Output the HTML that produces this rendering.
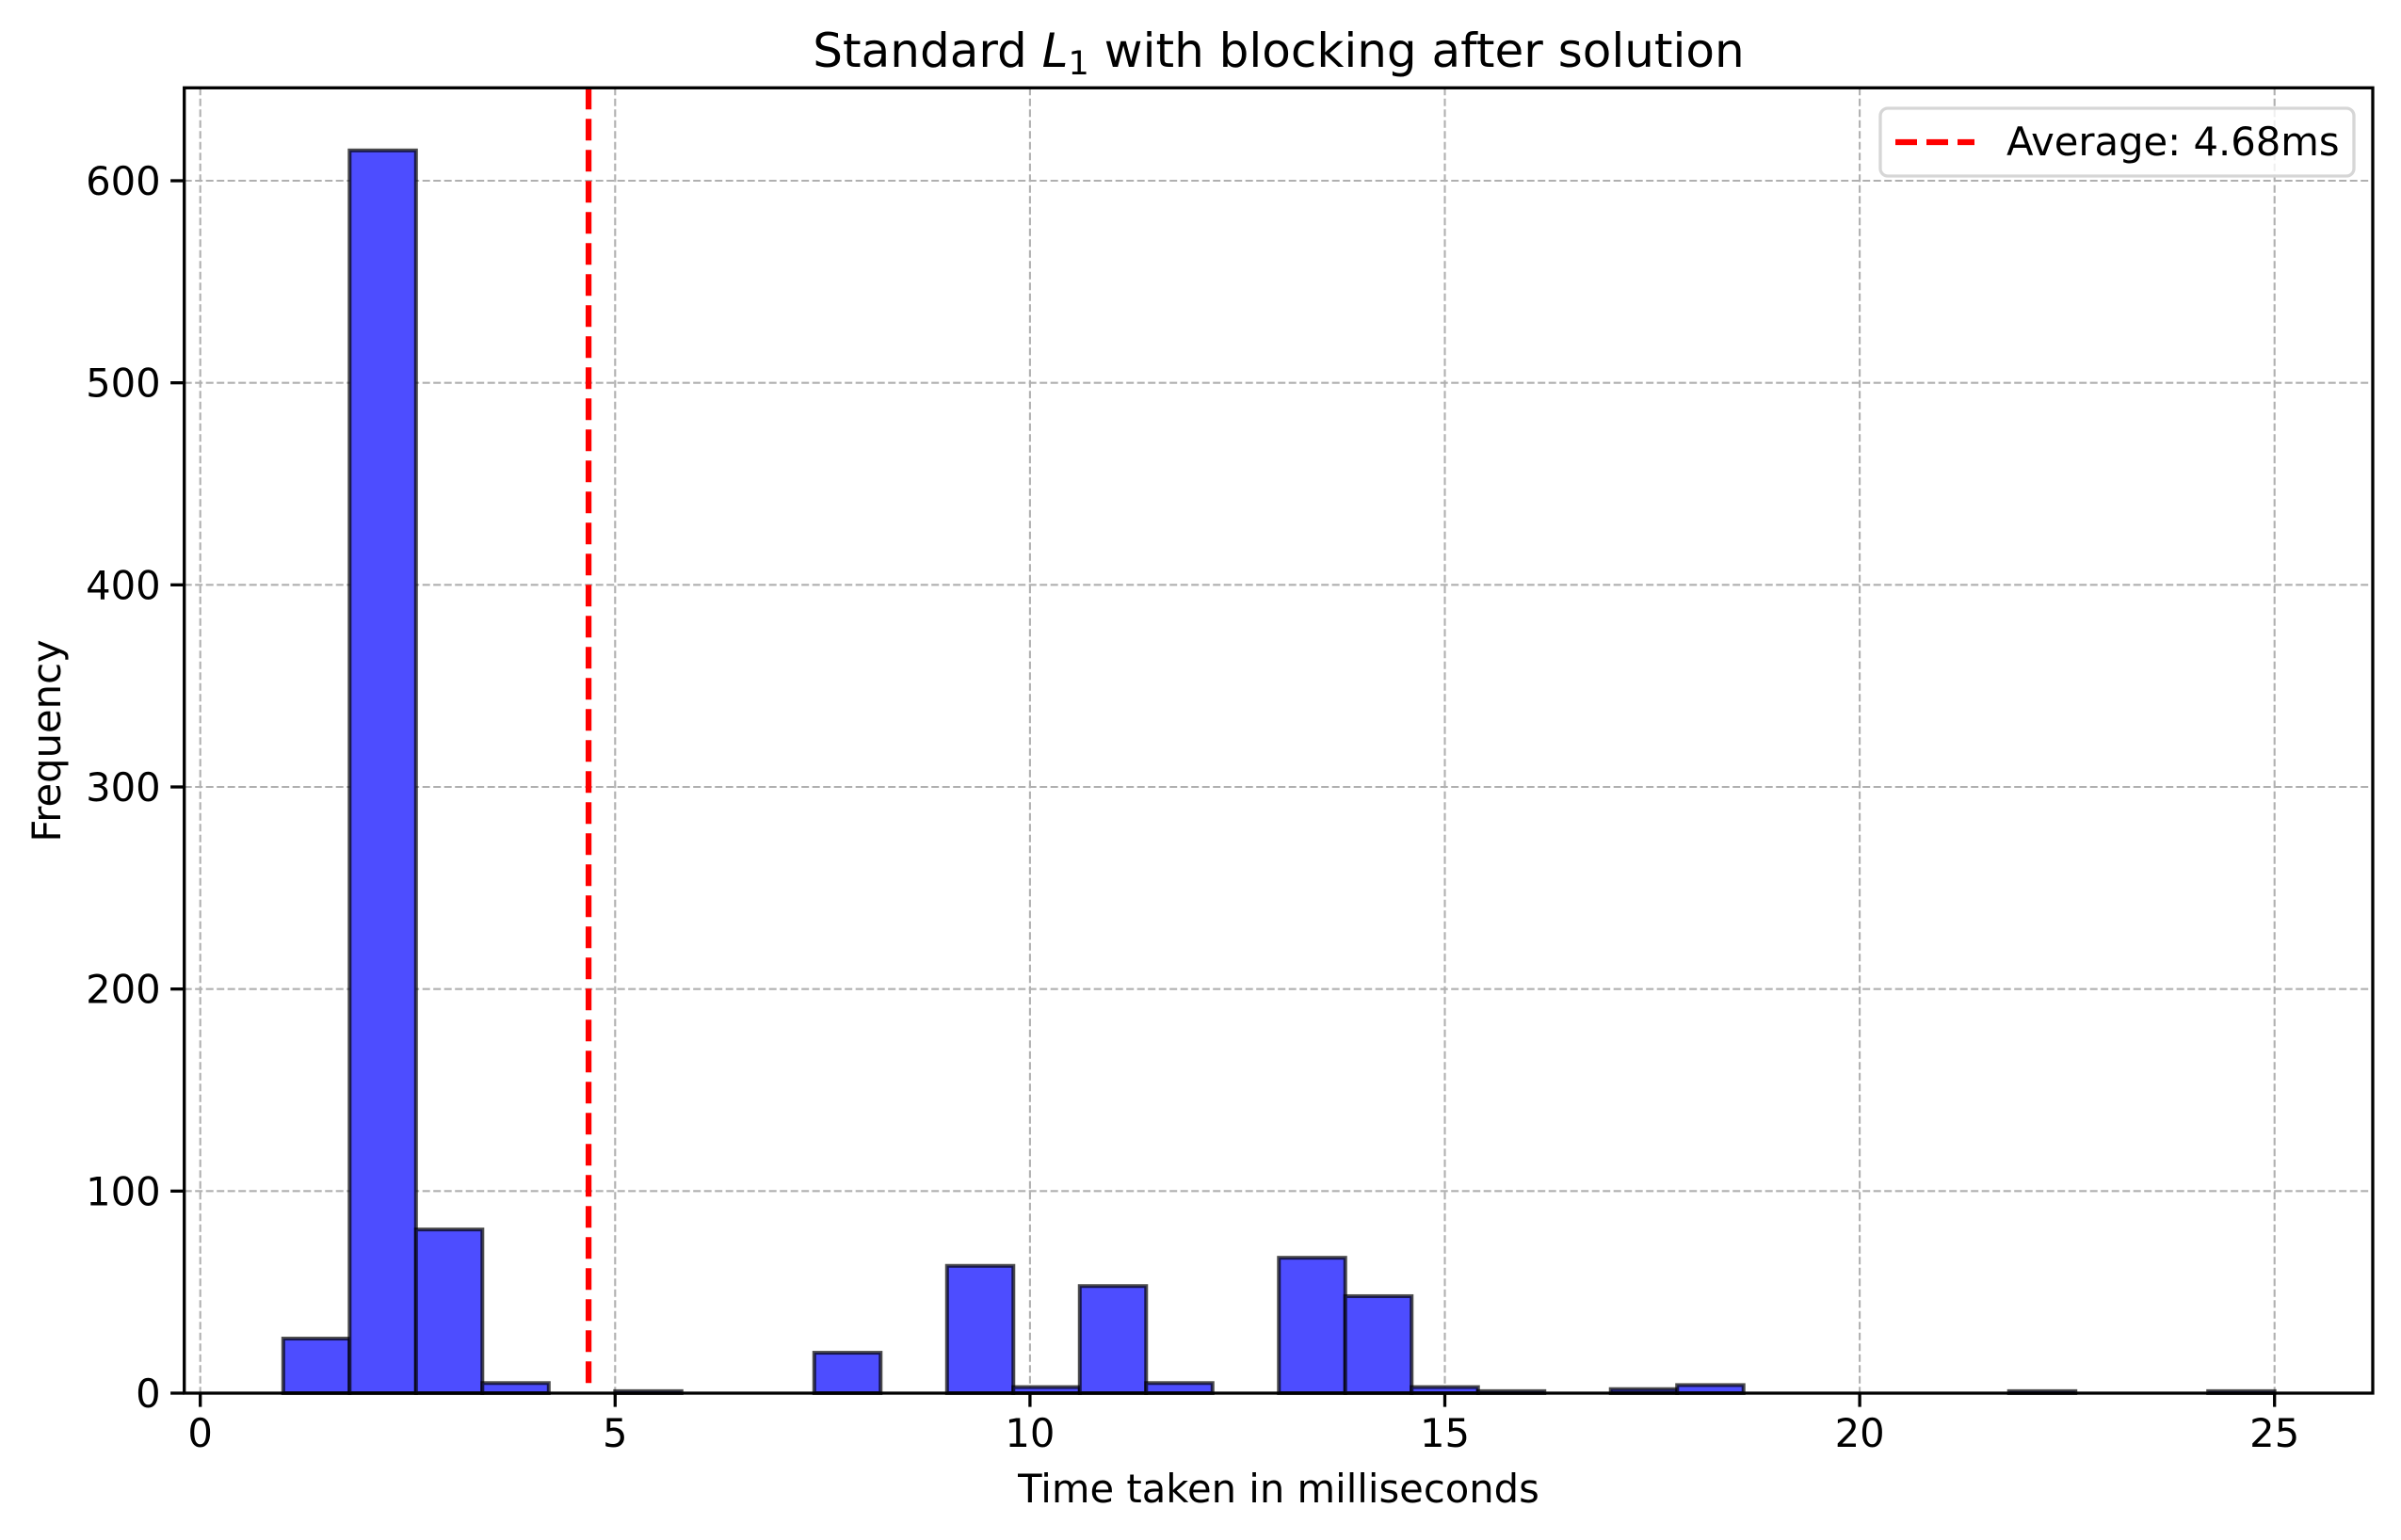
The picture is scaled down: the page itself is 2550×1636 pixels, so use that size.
<!DOCTYPE html>
<html><head><meta charset="utf-8"><style>
html,body{margin:0;padding:0;background:#fff}
svg{display:block;font-family:"DejaVu Sans","Liberation Sans",sans-serif}
</style></head><body>
<svg id="chart" width="2550" height="1636" viewBox="0 0 2550 1636" xmlns="http://www.w3.org/2000/svg">
<rect width="2550" height="1636" fill="#fff"/>
<g id="grid"></g>
<g id="bars"></g>
<g id="meanline"></g>
<g id="axes"></g>
<text x="1358" y="71" font-size="50" text-anchor="middle">Standard <tspan font-style="italic">L</tspan><tspan font-size="35" dy="8">1</tspan><tspan dy="-8"> with blocking after solution</tspan></text>
<text x="1358" y="1596" font-size="41.7" text-anchor="middle">Time taken in milliseconds</text>
<text transform="translate(64,787) rotate(-90)" font-size="41.7" text-anchor="middle">Frequency</text>
<g>
<rect x="1997" y="115" width="503" height="72" rx="8" fill="#fff" fill-opacity="0.8" stroke="#d6d6d6" stroke-width="3.3"/>
<line x1="2013" y1="151" x2="2097" y2="151" stroke="#ff0000" stroke-width="6.25" stroke-dasharray="23,10"/>
<text x="2131" y="165" font-size="41.7">Average: 4.68ms</text>
</g>
</svg>
<script>
const binStart = 1.0;
const binWidth = 0.8;
const counts = [27,615,81,5,0,1,0,0,20,0,63,3,53,5,0,67,48,3,1,0,2,4,0,0,0,0,1,0,0,1];
const meanValue = [4.68];
const xTicks = [0,5,10,15,20,25];
const yTicks = [0,100,200,300,400,500,600];

const L=195.7,R=2520,T=93.3,B=1480;
const X0=212.7, XS=88.12;
const YS=(1480-192)/600;
const sx=v=>X0+v*XS;
const sy=v=>B-v*YS;
const NS="http://www.w3.org/2000/svg";
function mk(tag,attrs,parent){const e=document.createElementNS(NS,tag);for(const k in attrs)e.setAttribute(k,attrs[k]);parent.appendChild(e);return e;}
const grid=document.getElementById('grid'),bars=document.getElementById('bars'),axes=document.getElementById('axes'),ml=document.getElementById('meanline');

xTicks.forEach(t=>{
  const g=mk('line',{x1:sx(t),x2:sx(t),y1:T,y2:B,stroke:'#b0b0b0','stroke-width':2.1,'stroke-dasharray':'8,3.5'},grid);
  
  
  const tk=mk('line',{x1:sx(t),x2:sx(t),y1:B,y2:B+14.6,stroke:'#000','stroke-width':3.3},axes);
  
  
  const lb=mk('text',{x:sx(t),y:B+57,'font-size':41.7,'text-anchor':'middle'},axes);
  lb.textContent=t;
  
  
});
yTicks.forEach(t=>{
  const g=mk('line',{x1:L,x2:R,y1:sy(t),y2:sy(t),stroke:'#b0b0b0','stroke-width':2.1,'stroke-dasharray':'8,3.5'},grid);
  
  
  const tk=mk('line',{x1:L-14.6,x2:L,y1:sy(t),y2:sy(t),stroke:'#000','stroke-width':3.3},axes);
  
  
  const lb=mk('text',{x:L-25,y:sy(t)+15,'font-size':41.7,'text-anchor':'end'},axes);
  lb.textContent=t;
  
  
});
counts.forEach((c,i)=>{
  if(c<=0)return;
  const x1=sx(binStart+i*binWidth),x2=sx(binStart+(i+1)*binWidth);
  const r=mk('rect',{x:x1,y:sy(c),width:x2-x1,height:B-sy(c),fill:'rgb(77,77,255)',stroke:'rgba(0,0,0,0.7)','stroke-width':4},bars);
  
  
});
const m=mk('line',{x1:sx(meanValue[0]),x2:sx(meanValue[0]),y1:T,y2:B,stroke:'#ff0000','stroke-width':6.25,'stroke-dasharray':'23,10'},ml);


const fr=mk('rect',{x:L,y:T,width:R-L,height:B-T,fill:'none',stroke:'#000','stroke-width':3.3},axes);


</script>
</body></html>
